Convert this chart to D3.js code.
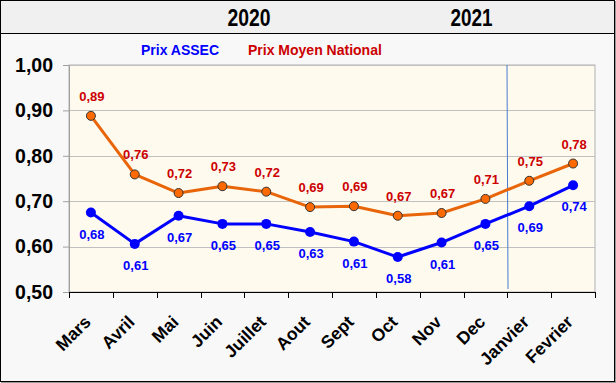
<!DOCTYPE html>
<html><head><meta charset="utf-8">
<script src="https://cdn.jsdelivr.net/npm/d3@7"></script>
<style>html,body{margin:0;padding:0;background:#fff;}svg{display:block;font-family:Arial,"Liberation Sans",sans-serif;}</style>
</head><body>
<svg id="c" width="616" height="383"></svg>
<script>
const months = ["Mars","Avril","Mai","Juin","Juillet","Aout","Sept","Oct","Nov","Dec","Janvier","Fevrier"];
const assec = [0.675,0.606,0.668,0.650,0.650,0.632,0.611,0.577,0.609,0.650,0.689,0.735];
const national = [0.888,0.759,0.718,0.733,0.721,0.687,0.689,0.668,0.674,0.705,0.745,0.783];
const assecLabels = ["0,68","0,61","0,67","0,65","0,65","0,63","0,61","0,58","0,61","0,65","0,69","0,74"];
const nationalLabels = ["0,89","0,76","0,72","0,73","0,72","0,69","0,69","0,67","0,67","0,71","0,75","0,78"];
const yTicks = [0.5,0.6,0.7,0.8,0.9,1.0];
const yearLabels = ["2020","2021"];
const seriesNames = ["Prix ASSEC","Prix Moyen National"];

const svg = d3.select("#c");
const L = 69, R = 595, T = 65, B = 292;

// frame
svg.append("rect").attr("x",0).attr("y",0).attr("width",616).attr("height",383).attr("fill","#ffffff");
svg.append("rect").attr("x",0.5).attr("y",0.5).attr("width",614).attr("height",381).attr("fill","#f8f8f8").attr("stroke","#000");
svg.append("rect").attr("x",1).attr("y",1).attr("width",613).attr("height",32).attr("fill","#f0f0f0");
svg.append("line").attr("x1",0).attr("x2",615).attr("y1",33.5).attr("y2",33.5).attr("stroke","#000");
svg.append("line").attr("x1",1).attr("x2",616).attr("y1",382.5).attr("y2",382.5).attr("stroke","#999");
svg.append("line").attr("x1",615.5).attr("x2",615.5).attr("y1",1).attr("y2",383).attr("stroke","#999");

// year labels
svg.append("text").attr("x",249).attr("y",26).attr("text-anchor","middle").attr("font-size",24).attr("font-weight","bold")
  .attr("textLength",43).attr("lengthAdjust","spacingAndGlyphs").text(yearLabels[0]);
svg.append("text").attr("x",471.5).attr("y",26).attr("text-anchor","middle").attr("font-size",24).attr("font-weight","bold")
  .attr("textLength",42).attr("lengthAdjust","spacingAndGlyphs").text(yearLabels[1]);

const x = d3.scaleBand().domain(months).range([L,R]);
const y = d3.scaleLinear().domain([0.5,1.0]).range([B,T]);

// plot area
svg.append("rect").attr("x",L).attr("y",T).attr("width",R-L).attr("height",B-T).attr("fill","#fefaee").attr("stroke","#b0b0b0");

// grid
svg.append("g").selectAll("line").data(yTicks.filter(d=>d>0.5)).join("line")
  .attr("x1",L).attr("x2",R).attr("y1",d=>Math.round(y(d))+0.5).attr("y2",d=>Math.round(y(d))+0.5)
  .attr("stroke","#c0c0c0");

// y axis
const yAxis = d3.axisLeft(y).tickValues(yTicks).tickSize(6).tickPadding(10)
  .tickFormat(d=>d3.format(".2f")(d).replace(".",","));
const gy = svg.append("g").attr("transform",`translate(${L},0)`).call(yAxis);
gy.select(".domain").attr("stroke","#a0a0a0");
gy.selectAll(".tick line").attr("stroke","#a0a0a0");
gy.selectAll("text").attr("font-size",19.5).attr("font-weight","bold").attr("fill","#000").attr("font-family","Arial, Liberation Sans, sans-serif");

// x axis
const xAxis = d3.axisBottom(x).tickSize(0).tickSizeOuter(0);
const gx = svg.append("g").attr("transform",`translate(0,${B})`).call(xAxis);
gx.select(".domain").attr("stroke","#000");
gx.selectAll(".tick text").attr("font-size",17.5).attr("font-weight","bold").attr("fill","#000")
  .attr("font-family","Arial, Liberation Sans, sans-serif")
  .attr("text-anchor","end").attr("dy",null).attr("y",null)
  .attr("transform","translate(1,31) rotate(-45)");
// boundary ticks
const bounds = months.map(m=>x(m)).concat([R]);
svg.append("g").selectAll("line").data(bounds).join("line")
  .attr("x1",d=>Math.round(d)+0.5).attr("x2",d=>Math.round(d)+0.5).attr("y1",B).attr("y2",B+6).attr("stroke","#000");
svg.append("line").attr("x1",L).attr("x2",R).attr("y1",B+0.5).attr("y2",B+0.5).attr("stroke","#000");

// separator line
svg.append("line").attr("x1",507).attr("x2",508).attr("y1",T).attr("y2",289).attr("stroke","#4a7bd0").attr("stroke-width",1);

// legend
svg.append("text").attr("x",141).attr("y",55).attr("font-size",14).attr("font-weight","bold").attr("fill","#0000ff").text(seriesNames[0]);
svg.append("text").attr("x",248).attr("y",55).attr("font-size",14).attr("font-weight","bold").attr("fill","#cc0000").text(seriesNames[1]);

const cx = m => x(m) + x.bandwidth()/2;
const line = d3.line().x((d,i)=>cx(months[i])).y(d=>y(d));

svg.append("path").datum(assec).attr("d",line).attr("fill","none").attr("stroke","#0000ff").attr("stroke-width",3).attr("stroke-linejoin","round");
svg.append("path").datum(national).attr("d",line).attr("fill","none").attr("stroke","#e8650a").attr("stroke-width",3).attr("stroke-linejoin","round");

svg.append("g").selectAll("circle").data(assec).join("circle")
  .attr("cx",(d,i)=>cx(months[i])).attr("cy",d=>y(d)).attr("r",5).attr("fill","#0000ff");
svg.append("g").selectAll("circle").data(national).join("circle")
  .attr("cx",(d,i)=>cx(months[i])).attr("cy",d=>y(d)).attr("r",4.5).attr("fill","#ff6a00").attr("stroke","#333").attr("stroke-width",1);

svg.append("g").selectAll("text").data(assec).join("text")
  .attr("x",(d,i)=>cx(months[i])+1).attr("y",d=>y(d)+26).attr("text-anchor","middle")
  .attr("font-size",13).attr("font-weight","bold").attr("fill","#0000ff").text((d,i)=>assecLabels[i]);
svg.append("g").selectAll("text").data(national).join("text")
  .attr("x",(d,i)=>cx(months[i])+1).attr("y",d=>y(d)-15).attr("text-anchor","middle")
  .attr("font-size",13).attr("font-weight","bold").attr("fill","#cc0000").text((d,i)=>nationalLabels[i]);
</script>
</body></html>
